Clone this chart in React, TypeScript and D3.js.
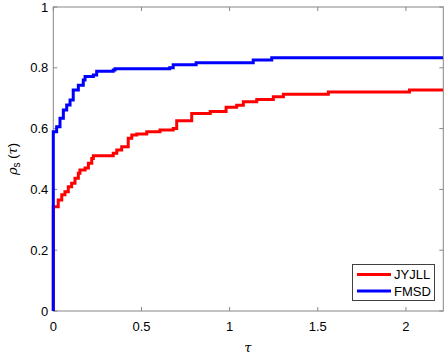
import React from "react";
import * as d3 from "d3";

// performance profile data (tau, rho_s)
const tauJYJLL = [0, 0, 0.028, 0.048, 0.066, 0.085, 0.104, 0.123, 0.142, 0.151, 0.18, 0.199, 0.218, 0.227, 0.34, 0.36, 0.388, 0.425, 0.445, 0.473, 0.53, 0.605, 0.68, 0.7, 0.785, 0.89, 0.98, 1.04, 1.078, 1.154, 1.248, 1.305, 1.56, 2.02, 2.21];
const rhoJYJLL = [0, 0.343, 0.365, 0.382, 0.392, 0.409, 0.42, 0.437, 0.453, 0.464, 0.47, 0.486, 0.502, 0.511, 0.519, 0.53, 0.54, 0.568, 0.579, 0.582, 0.59, 0.595, 0.6, 0.626, 0.65, 0.656, 0.67, 0.677, 0.688, 0.696, 0.705, 0.713, 0.72, 0.727, 0.727];

const tauFMSD = [0, 0, 0.019, 0.038, 0.057, 0.076, 0.095, 0.113, 0.142, 0.17, 0.18, 0.227, 0.246, 0.34, 0.35, 0.66, 0.68, 0.81, 1.134, 1.239, 2.21];
const rhoFMSD = [0, 0.59, 0.606, 0.634, 0.661, 0.678, 0.694, 0.727, 0.743, 0.76, 0.771, 0.776, 0.789, 0.793, 0.797, 0.8, 0.81, 0.817, 0.826, 0.833, 0.833];

const xTicks = [0, 0.5, 1, 1.5, 2];
const yTicks = [0, 0.2, 0.4, 0.6, 0.8, 1];
const seriesNames = ["JYJLL", "FMSD"];
const seriesColors = ["#ff0000", "#0000ff"];

const W = 447, H = 355;
const left = 53.3, right = 443.3, top = 7, bottom = 311;

export default function App() {
  const x = d3.scaleLinear().domain([0, 2.212]).range([left, right]);
  const y = d3.scaleLinear().domain([0, 1]).range([bottom, top]);

  const line = d3.line<[number, number]>()
    .x(d => x(d[0]))
    .y(d => y(d[1]))
    .curve(d3.curveStepAfter);

  const series = [
    tauJYJLL.map((t, i) => [t, rhoJYJLL[i]] as [number, number]),
    tauFMSD.map((t, i) => [t, rhoFMSD[i]] as [number, number]),
  ];

  const axisColor = "#868686";
  const font = "'Liberation Sans', Arial, sans-serif";
  const tickLen = 4;

  return (
    <svg width={W} height={H} style={{ position: "absolute", left: 0, top: 0, background: "#fff" }}
      fontFamily={font} fontSize={13}>
      <rect x={0} y={0} width={W} height={H} fill="#fff" />
      {/* ticks */}
      {xTicks.map(t => (
        <g key={"x" + t}>
          <line x1={x(t)} x2={x(t)} y1={bottom} y2={bottom - tickLen} stroke={axisColor} />
          <line x1={x(t)} x2={x(t)} y1={top} y2={top + tickLen} stroke={axisColor} />
          <text x={x(t)} y={bottom + 20} textAnchor="middle" fill="#000">{t}</text>
        </g>
      ))}
      {yTicks.map(t => (
        <g key={"y" + t}>
          <line x1={left} x2={left + tickLen} y1={y(t)} y2={y(t)} stroke={axisColor} />
          <line x1={right} x2={right - tickLen} y1={y(t)} y2={y(t)} stroke={axisColor} />
          <text x={left - 5} y={y(t) + 4.5} textAnchor="end" fill="#000">{t}</text>
        </g>
      ))}
      <rect x={left} y={top} width={right - left} height={bottom - top} fill="none" stroke={axisColor} />

      {series.map((s, i) => (
        <path key={i} d={line(s) || ""} fill="none" stroke={seriesColors[i]} strokeWidth={3} />
      ))}

      {/* axis labels */}
      <text x={(left + right) / 2 - 0.5} y={352} textAnchor="middle" fontFamily="'DejaVu Serif', serif" fontStyle="italic" fontSize={13}>τ</text>
      <text transform={`translate(17, ${(top + bottom) / 2})rotate(-90)`} textAnchor="middle" fontSize={13}>
        <tspan fontFamily="'DejaVu Serif', serif" fontStyle="italic">ρ</tspan>
        <tspan fontSize={10} dy={3}>s</tspan>
        <tspan dy={-3}> (</tspan>
        <tspan fontFamily="'DejaVu Serif', serif" fontStyle="italic">τ</tspan>
        <tspan>)</tspan>
      </text>

      {/* legend */}
      <rect x={352.5} y={264.5} width={82} height={36} fill="#fff" stroke="#404040" />
      {seriesNames.map((n, i) => (
        <g key={n}>
          <line x1={357} x2={391} y1={274.5 + i * 16.5} y2={274.5 + i * 16.5} stroke={seriesColors[i]} strokeWidth={3} />
          <text x={394} y={279 + i * 16.5} fill="#000">{n}</text>
        </g>
      ))}
    </svg>
  );
}
